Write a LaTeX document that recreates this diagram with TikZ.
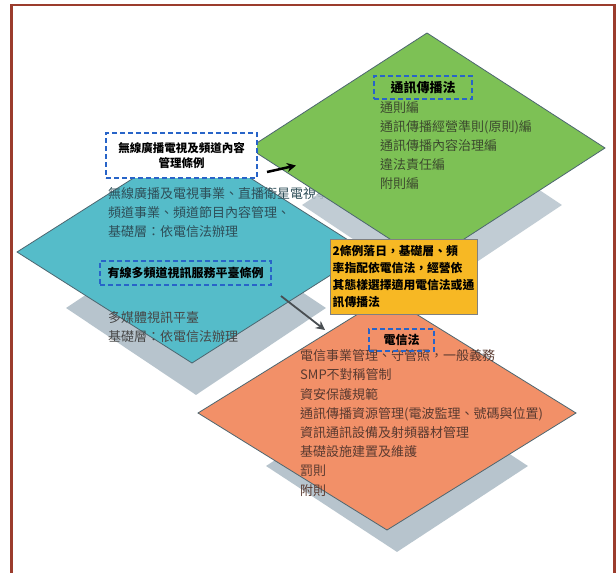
\documentclass[tikz,border=0pt]{standalone}
\usepackage{fontspec}
\setmainfont{Noto Sans CJK TC}
\usetikzlibrary{shapes.geometric, arrows.meta}

\definecolor{greenfill}{HTML}{7DC155}
\definecolor{tealfill}{HTML}{55BCC9}
\definecolor{orangefill}{HTML}{F29068}
\definecolor{shadowgray}{HTML}{B7C4CD}
\definecolor{notefill}{HTML}{F7B824}
\definecolor{dashblue}{HTML}{2864C8}
\definecolor{framered}{HTML}{9B3C2D}
\definecolor{rimgray}{HTML}{4D6670}
\definecolor{greentext}{HTML}{3C4A2E}
\definecolor{tealtext}{HTML}{2E4E58}
\definecolor{orangetext}{HTML}{5A3A30}

\begin{document}
\begin{tikzpicture}[
    x=1pt, y=-1pt,
    rhomb/.style={diamond, draw=rimgray, line width=0.8pt, inner sep=0pt, outer sep=0pt},
    shade/.style={diamond, fill=shadowgray, inner sep=0pt},
    titlebox/.style={draw=dashblue, dash pattern=on 5pt off 3pt, line width=2.2pt,
                     inner sep=0pt, align=center, font=\bfseries\fontsize{12}{15}\selectfont},
    list/.style={anchor=north west, align=left, inner sep=0pt},
    arrow/.style={-{Stealth[length=9pt, width=9pt]}, line width=2.5pt},
  ]
    \useasboundingbox[fill=white] (0,0) rectangle (616,573);
    % Frame
    \draw[framered, line width=2.5pt] (11.5,576) -- (11.5,5) -- (614.5,5) -- (614.5,576);

    % Shadows
    \node[shade, minimum width=260, minimum height=174] (tealsh)   at (196,308) {};
    \node[shade, minimum width=262, minimum height=172] (orangesh) at (397,466) {};

    % Broadcasting diamond
    \node[rhomb, fill=tealfill, minimum width=350, minimum height=222] (teal) at (192,252) {};
    \node[list, text=tealtext, font=\fontsize{13}{19}\selectfont] (bctext) at (108,187.5)
        {無線廣播及電視事業、直播衛星電視事業、\\頻道事業、頻道節目內容管理、\\基礎層：依電信法辦理};

    % Communications diamond
    \node[shade, fill opacity=0.85, minimum width=260, minimum height=174] (greensh) at (432,205) {};
    \node[rhomb, fill=greenfill, minimum width=356, minimum height=230] (green) at (427,148) {};
    \node[list, text=greentext, font=\fontsize{13}{19}\selectfont] (cmtext) at (380,101.5)
        {通則編\\通訊傳播經營準則(原則)編\\通訊傳播內容治理編\\違法責任編\\附則編};

    % Telecom diamond
    \node[rhomb, fill=orangefill, minimum width=378, minimum height=234] (orange) at (387,413) {};
    \node[list, text=orangetext, font=\fontsize{13}{19.2}\selectfont] (tltext) at (300,349.5)
        {電信事業管理、守管照，一般義務\\SMP不對稱管制\\資安保護規範\\通訊傳播資源管理(電波監理、號碼與位置)\\%
         資訊通訊設備及射頻器材管理\\基礎設施建置及維護\\罰則\\附則};

    \node[list, text=black!72, font=\fontsize{13}{18.5}\selectfont] (cbtext) at (108,311.5)
        {多媒體視訊平臺\\基礎層：依電信法辦理};

    % Note box
    \node[draw=black!50, line width=0.8pt, fill=notefill, minimum width=147, minimum height=75,
          align=left, inner sep=0pt, font=\bfseries\fontsize{11.8}{16.8}\selectfont] (note) at (403.5,276.5)
        {2條例落日，基礎層、頻\\率指配依電信法，經營依\\其態樣選擇適用電信法或通\\訊傳播法};

    % Law titles
    \node[titlebox, minimum width=98, minimum height=23, font=\bfseries\fontsize{13}{15}\selectfont] (cmlaw) at (423,87.5) {通訊傳播法};
    \node[titlebox, fill=white, minimum width=151, minimum height=45, font=\bfseries\fontsize{11.5}{15}\selectfont] (bclaw) at (181.5,155.5)
        {無線廣播電視及頻道內容\\管理條例};
    \node[titlebox, minimum width=171, minimum height=24] (cblaw) at (185.5,273) {有線多頻道視訊服務平臺條例};
    \node[titlebox, minimum width=65, minimum height=22] (tllaw) at (401.5,340) {電信法};

    % Arrows
    \coordinate (bcout) at (267,172);
    \coordinate (cmin)  at (296,165.5);
    \coordinate (cbout) at (281,296);
    \coordinate (tlin)  at (325,330);
    \draw[arrow] (bcout) -- (cmin);
    \draw[arrow, line width=1.8pt, color=black!50!shadowgray!80!black] (cbout) -- (tlin);
  \end{tikzpicture}
\end{document}
